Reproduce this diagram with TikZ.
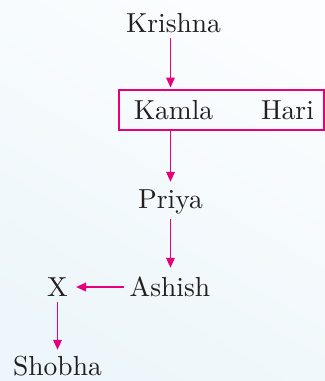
\documentclass[tikz,border=0pt]{standalone}
\usepackage{fontspec}
\setmainfont{lmroman10-regular.otf}
\usetikzlibrary{arrows.meta}
\definecolor{pinkline}{HTML}{E6007E}
\definecolor{txt}{HTML}{231F20}
\definecolor{bgA}{HTML}{FBFDFE}
\definecolor{bgB}{HTML}{EDF6FA}
\tikzset{
  person/.style={inner sep=0pt, text height=19.5bp, text depth=5.5bp, anchor=base, text=txt,
    font=\fontsize{27.5bp}{33bp}\selectfont},
  conn/.style={draw=pinkline, line width=1.8bp, -{Triangle[length=10bp,width=8.5bp]}},
  famBox/.style={draw=pinkline, line width=1.8bp, minimum width=205bp, minimum height=40bp, inner sep=0pt}
}
\begin{document}
\begin{tikzpicture}[x=1bp,y=-1bp]
\shade[left color=bgA, right color=bgB, shading angle=-30] (0,0) rectangle (325,381);
\useasboundingbox (0,0) rectangle (325,381);
\node[famBox] (box) at (221.5,110) {};
\node[person] (kr) at (173.5,32) {Krishna};
\node[person] (ka) at (173.5,119) {Kamla};
\node[person] (ha) at (287.5,119) {Hari};
\node[person] (pr) at (170.5,208) {Priya};
\node[person] (as) at (170,296) {Ashish};
\node[person] (x) at (57.5,296) {X};
\node[person] (sh) at (57.5,375) {Shobha};
\draw[conn, shorten <=0.5bp, shorten >=1.5bp] (pr |- kr.south) -- (pr |- box.north);
\draw[conn, shorten >=6.5bp] (pr |- box.south) -- (pr.north);
\draw[conn, shorten <=5.5bp, shorten >=8.5bp] (pr.south) -- (pr |- as.north);
\draw[conn, shorten <=6bp, shorten >=8bp] ([yshift=2bp]as.west) -- ([yshift=2bp]x.east);
\draw[conn, shorten >=5.5bp] (x.south) -- (x |- sh.north);
\end{tikzpicture}
\end{document}
